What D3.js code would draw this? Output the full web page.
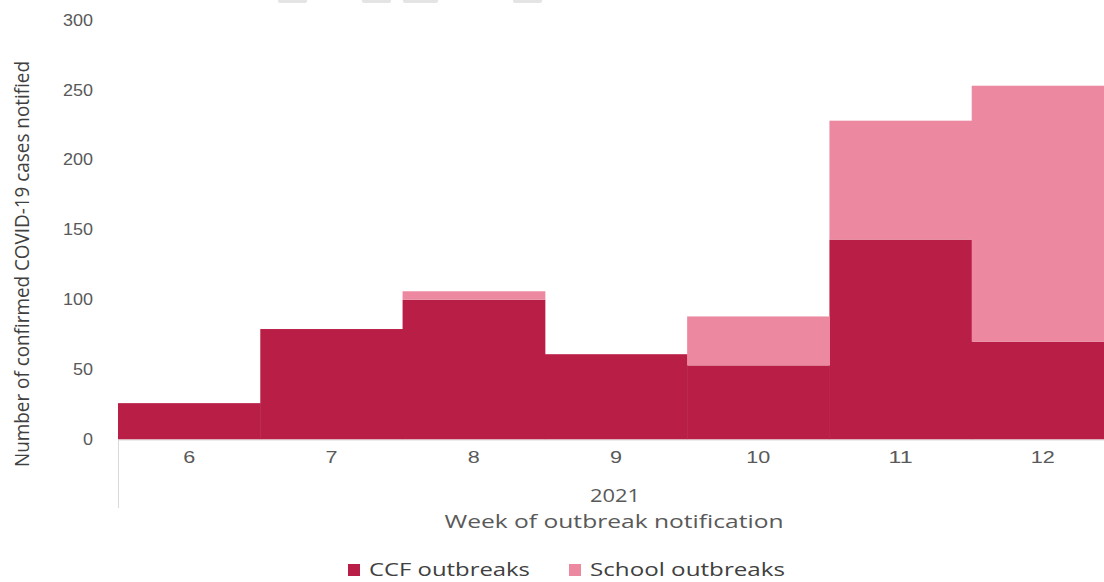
<!DOCTYPE html>
<html>
<head>
<meta charset="utf-8">
<script src="https://cdn.jsdelivr.net/npm/d3@7"></script>
<style>
  body { margin: 0; background: #fff; overflow: hidden; }
  svg { display: block; font-family: "Open Sans", sans-serif; }
</style>
</head>
<body>
<div id="chart"></div>
<script>
// weeks of 2021 and the two stacked series
var weeks = ["6", "7", "8", "9", "10", "11", "12"];
var ccf = [26, 79, 100, 61, 53, 143, 70];
var school = [0, 0, 6, 0, 35, 85, 183];
var yTicks = [0, 50, 100, 150, 200, 250, 300];
var seriesNames = ["CCF outbreaks", "School outbreaks"];

var width = 1104, height = 582;
var colors = ["#b91f46", "#ec89a1"];

var svg = d3.select("#chart").append("svg")
    .attr("width", width)
    .attr("height", height);

// faint clipped boxes along the top edge
[[278, 29], [362, 29], [403, 35], [513, 29]].forEach(function(b) {
    svg.append("rect")
        .attr("x", b[0]).attr("y", -4)
        .attr("width", b[1]).attr("height", 7)
        .attr("rx", 2)
        .attr("fill", "#e4e4e4");
});

var x = d3.scaleBand()
    .domain(weeks)
    .range([118, 1114])
    .paddingInner(0)
    .paddingOuter(0);

var y = d3.scaleLinear()
    .domain([0, 300])
    .range([439.5, 20]);

var rows = weeks.map(function(w, i) {
    return { week: w, ccf: ccf[i], school: school[i] };
});

var stack = d3.stack().keys(["ccf", "school"]);
var layers = stack(rows);

svg.append("g")
    .selectAll("g")
    .data(layers)
    .enter().append("g")
    .attr("fill", function(d, i) { return colors[i]; })
    .selectAll("rect")
    .data(function(d) { return d; })
    .enter().append("rect")
    .attr("x", function(d) { return x(d.data.week); })
    .attr("width", x.bandwidth() + 0.5)
    .attr("y", function(d) { return y(d[1]); })
    .attr("height", function(d) { return y(d[0]) - y(d[1]); });

// baseline and left group tick
svg.append("line")
    .attr("x1", 118).attr("x2", width)
    .attr("y1", 440).attr("y2", 440)
    .attr("stroke", "#d9d9d9").attr("stroke-width", 1);
svg.append("line")
    .attr("x1", 118.5).attr("x2", 118.5)
    .attr("y1", 440).attr("y2", 508)
    .attr("stroke", "#d9d9d9").attr("stroke-width", 1);

// y axis labels
var yAxis = d3.axisLeft(y).tickValues(yTicks).tickSize(0).tickPadding(0);
var yg = svg.append("g")
    .attr("transform", "translate(93,0)")
    .call(yAxis);
yg.select(".domain").remove();
yg.selectAll("text")
    .attr("fill", "#595959")
    .style("font-size", "16px")
    .attr("textLength", function(d) { return String(d).length * 10; })
    .attr("lengthAdjust", "spacingAndGlyphs");

// x axis labels
var xAxis = d3.axisBottom(x).tickSize(0).tickPadding(0);
var xg = svg.append("g")
    .attr("transform", "translate(0,452)")
    .call(xAxis);
xg.select(".domain").remove();
xg.selectAll("text")
    .attr("fill", "#595959")
    .style("font-size", "16px")
    .attr("textLength", function(d) { return d.length * 12; })
    .attr("lengthAdjust", "spacingAndGlyphs");

svg.append("text")
    .attr("x", 615).attr("y", 502)
    .attr("text-anchor", "middle")
    .attr("fill", "#595959")
    .style("font-size", "18px")
    .attr("textLength", 50)
    .attr("lengthAdjust", "spacingAndGlyphs")
    .text("2021");

svg.append("text")
    .attr("x", 614).attr("y", 528)
    .attr("text-anchor", "middle")
    .attr("fill", "#595959")
    .style("font-size", "18px")
    .attr("textLength", 339)
    .attr("lengthAdjust", "spacingAndGlyphs")
    .text("Week of outbreak notification");

svg.append("text")
    .attr("transform", "translate(29,264) rotate(-90)")
    .attr("text-anchor", "middle")
    .attr("fill", "#404040")
    .style("font-size", "20px")
    .attr("textLength", 406)
    .attr("lengthAdjust", "spacingAndGlyphs")
    .text("Number of confirmed COVID-19 cases notified");

// legend
var legendPos = [[348, 369, 161], [569, 590, 195]];
var legend = svg.append("g")
    .selectAll("g")
    .data(seriesNames)
    .enter().append("g");
legend.append("rect")
    .attr("x", function(d, i) { return legendPos[i][0]; })
    .attr("y", 564)
    .attr("width", 12).attr("height", 12)
    .attr("fill", function(d, i) { return colors[i]; });
legend.append("text")
    .attr("x", function(d, i) { return legendPos[i][1]; })
    .attr("y", 576)
    .attr("fill", "#404040")
    .style("font-size", "18px")
    .attr("textLength", function(d, i) { return legendPos[i][2]; })
    .attr("lengthAdjust", "spacingAndGlyphs")
    .text(function(d) { return d; });
</script>
</body>
</html>
